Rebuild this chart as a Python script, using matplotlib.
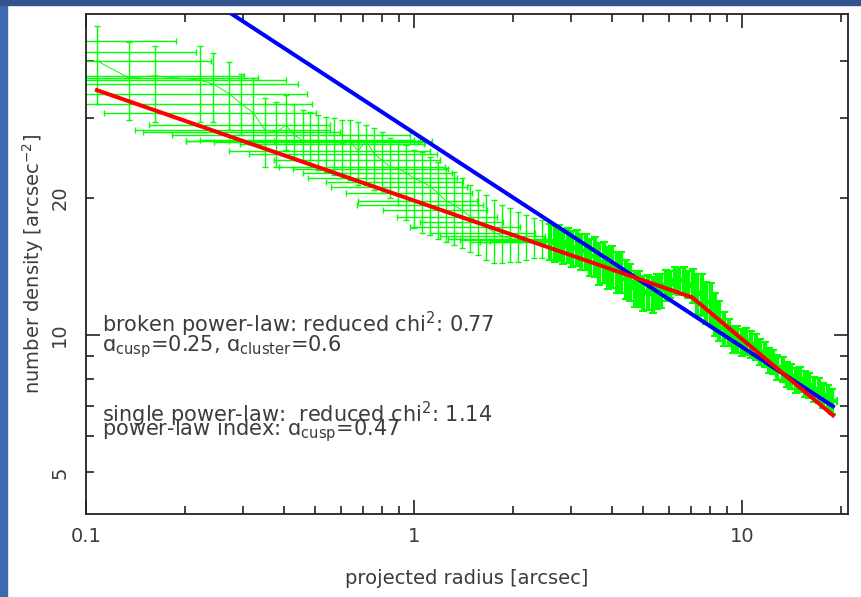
import matplotlib
matplotlib.use("Agg")
import matplotlib.pyplot as plt
from matplotlib.patches import Rectangle
from matplotlib.ticker import FixedLocator, FuncFormatter, NullFormatter
import numpy as np

# Inner profile: binned points with long radial bins (r, density, bin edges, density range)
r_in = [0.083, 0.089, 0.108, 0.135, 0.162, 0.223, 0.244, 0.273, 0.297, 0.323,
        0.351, 0.380, 0.407, 0.431, 0.459,
        0.482, 0.510, 0.539, 0.570, 0.603, 0.638, 0.675, 0.714, 0.755, 0.799,
        0.845, 0.894, 0.946, 1.000, 1.058, 1.119, 1.184, 1.252, 1.324, 1.401,
        1.482, 1.567, 1.658, 1.754, 1.855, 1.962, 2.076, 2.195, 2.322, 2.456]
dens_in = [44.3, 41.9, 40.0, 36.7, 37.1, 36.3, 35.6, 33.9, 32.2, 30.8,
           28.2, 27.9, 28.9, 27.5, 26.7,
           26.7, 26.8, 26.6, 26.7, 26.3, 26.6, 25.4, 26.7, 25.0, 24.2,
           23.4, 23.2, 22.7, 22.1, 21.7, 21.2, 20.5, 19.7, 19.3, 18.8,
           18.2, 17.7, 17.3, 16.8, 16.5, 16.3, 16.2, 16.0, 16.0, 16.1]
r_in_lo = [0.05, 0.05, 0.05, 0.05, 0.05, 0.05, 0.05, 0.05, 0.05, 0.1135,
           0.141, 0.149, 0.156, 0.183, 0.202,
           0.202, 0.223, 0.246, 0.273, 0.295, 0.314, 0.273, 0.374, 0.314, 0.374,
           0.388, 0.428, 0.459, 0.475, 0.539, 0.559, 0.621, 0.675, 0.670, 0.805,
           0.888, 1.043, 0.972, 1.119, 1.200, 1.270, 1.381, 1.482, 1.589, 1.705]
r_in_hi = [0.188, 0.217, 0.240, 0.335, 0.303, 0.407, 0.443, 0.472, 0.489, 0.503,
           0.555, 0.595, 0.555, 0.972, 1.000,
           0.972, 1.000, 1.029, 1.043, 1.073, 1.080, 1.119, 1.135, 1.175, 1.200,
           1.243, 1.270, 1.306, 1.352, 1.411, 1.451, 1.503, 1.556, 1.623, 1.670,
           1.791, 1.868, 2.105, 2.339, 2.508, 2.598, 2.691, 2.787, 2.887, 2.989]
dens_in_lo = [39.0, 37.0, 32.2, 29.7, 29.4, 29.4, 29.4, 28.2, 27.5, 26.8,
              23.4, 23.4, 25.5, 24.2, 24.2,
              23.4, 23.0, 22.8, 22.5, 22.1, 21.9, 21.4, 21.4, 20.8, 20.5,
              20.0, 19.3, 17.9, 17.2, 16.8, 16.6, 16.3, 16.0, 15.8, 15.5,
              15.2, 15.0, 14.6, 14.4, 14.4, 14.5, 14.5, 14.6, 14.8, 14.8]
dens_in_hi = [50.0, 47.0, 47.8, 44.0, 43.2, 43.2, 41.7, 39.8, 37.5, 36.7,
              33.2, 32.5, 33.7, 32.2, 31.2,
              30.9, 30.4, 30.1, 30.0, 29.7, 29.7, 29.4, 28.9, 28.5, 27.9,
              27.1, 26.6, 26.2, 25.5, 25.3, 24.6, 24.0, 23.3, 22.8, 22.1,
              21.4, 20.8, 20.3, 19.8, 19.3, 19.0, 18.6, 18.4, 18.1, 17.9]

# Outer profile: dense points with small errors
r_out = [2.60, 2.68, 2.76, 2.85, 2.94, 3.03, 3.13, 3.23, 3.33, 3.44,
         3.55, 3.66, 3.78, 3.90, 4.02, 4.15, 4.28, 4.42, 4.56, 4.70,
         4.85, 5.00, 5.16, 5.33, 5.50, 5.67, 5.85, 6.04, 6.23, 6.43,
         6.63, 6.84, 7.06, 7.29, 7.52, 7.76, 8.01, 8.26, 8.52, 8.80,
         9.08, 9.37, 9.67, 9.98, 10.3, 10.6, 11.0, 11.3, 11.7, 12.1,
         12.4, 12.8, 13.3, 13.7, 14.1, 14.6, 15.0, 15.5, 16.0, 16.5,
         17.1, 17.6, 18.2, 18.8]
dens_out = [16.1, 15.9, 16.0, 15.7, 15.8, 15.5, 15.6, 15.3, 15.3, 14.9,
            14.9, 14.4, 14.5, 14.1, 14.2, 13.8, 13.8, 13.3, 13.1, 12.7,
            12.7, 12.4, 12.45, 12.3, 12.5, 12.55, 12.9, 12.95, 13.2, 13.15,
            13.2, 12.95, 12.85, 12.35, 12.3, 11.85, 11.8, 11.15, 10.8, 10.35,
            10.15, 9.8, 9.8, 9.65, 9.7, 9.55, 9.45, 9.2, 9.08, 8.83,
            8.75, 8.5, 8.42, 8.2, 8.13, 7.98, 8.0, 7.83, 7.77, 7.62,
            7.56, 7.4, 7.33, 7.17]
dens_err_out = [1.45, 1.45, 1.45, 1.4, 1.4, 1.4, 1.4, 1.4, 1.4, 1.4,
                1.5, 1.5, 1.5, 1.5, 1.5, 1.45, 1.4, 1.3, 1.2, 1.15,
                1.15, 1.1, 1.1, 1.1, 1.1, 1.1, 1.0, 0.9, 0.9, 0.9,
                0.9, 0.9, 1.1, 1.3, 1.3, 1.25, 1.25, 1.2, 1.1, 0.9,
                0.7, 0.66, 0.66, 0.66, 0.66, 0.65, 0.63, 0.6, 0.58, 0.56,
                0.55, 0.54, 0.53, 0.52, 0.51, 0.5, 0.5, 0.5, 0.49, 0.48,
                0.48, 0.47, 0.46, 0.45]
r_err_out = [0.09, 0.09, 0.1, 0.1, 0.1, 0.11, 0.11, 0.11, 0.12, 0.12,
             0.12, 0.13, 0.13, 0.14, 0.14, 0.15, 0.15, 0.15, 0.16, 0.16,
             0.17, 0.18, 0.18, 0.19, 0.19, 0.2, 0.2, 0.21, 0.22, 0.22,
             0.23, 0.24, 0.25, 0.26, 0.26, 0.27, 0.28, 0.29, 0.3, 0.31,
             0.32, 0.33, 0.34, 0.35, 0.36, 0.37, 0.38, 0.4, 0.41, 0.42,
             0.43, 0.45, 0.47, 0.48, 0.49, 0.51, 0.52, 0.54, 0.56, 0.58,
             0.6, 0.62, 0.64, 0.66]

# fitted models (line vertices)
single_r = [0.1, 18.9]
single_dens = [82.0, 6.98]
broken_r = [0.108, 7.04, 18.9]
broken_dens = [34.5, 12.1, 6.67]

GREEN = "#00ff00"
TXT = "#3c3c3c"

fig = plt.figure(figsize=(8.62, 5.97), dpi=100)
fig.patches.append(Rectangle((0, 0), 7 / 862, 1, transform=fig.transFigure,
                             color="#4068b0", zorder=-1))
fig.patches.append(Rectangle((0, 1 - 5 / 597), 1, 5 / 597, transform=fig.transFigure,
                             color="#33538c", zorder=-1))

ax = fig.add_axes([86 / 862, 83 / 597, 762 / 862, 500 / 597])
ax.set_xscale("log")
ax.set_yscale("log")

r_in_a = np.array(r_in)
dens_in_a = np.array(dens_in)
ax.errorbar(r_in_a, dens_in_a,
            xerr=[r_in_a - np.array(r_in_lo), np.array(r_in_hi) - r_in_a],
            yerr=[dens_in_a - np.array(dens_in_lo), np.array(dens_in_hi) - dens_in_a],
            fmt="none", ecolor=GREEN, elinewidth=1.0, capsize=2.5, capthick=1.0, zorder=2)
ax.errorbar(r_out, dens_out, xerr=r_err_out, yerr=dens_err_out,
            fmt="none", ecolor=GREEN, elinewidth=3.0, capsize=3, capthick=1.5, zorder=2)

# thin line joining the profile points
r_all = np.concatenate([r_in_a, r_out])
dens_all = np.concatenate([dens_in_a, dens_out])
keep = r_all >= 0.1
ax.plot(r_all[keep], dens_all[keep], color=GREEN, lw=0.7, zorder=2)

ax.plot(single_r, single_dens, color="#0000ff", lw=2.9, zorder=3)
ax.plot(broken_r, broken_dens, color="#ff0000", lw=2.9, zorder=4)

ax.set_xlim(0.1, 21.0)
ax.set_ylim(4.05, 50.7)

ax.xaxis.set_major_locator(FixedLocator([0.1, 1, 10]))
ax.xaxis.set_minor_locator(FixedLocator([0.2, 0.3, 0.4, 0.5, 0.6, 0.7, 0.8, 0.9,
                                         2, 3, 4, 5, 6, 7, 8, 9, 20]))
ax.xaxis.set_major_formatter(FuncFormatter(lambda v, p: "%g" % v))
ax.xaxis.set_minor_formatter(NullFormatter())

ax.yaxis.set_major_locator(FixedLocator([10]))
ax.yaxis.set_minor_locator(FixedLocator([5, 6, 7, 8, 9, 20, 30, 40]))
ax.yaxis.set_major_formatter(FuncFormatter(lambda v, p: "%g" % v))
ax.yaxis.set_minor_formatter(FuncFormatter(lambda v, p: "%g" % v if v in (5, 20) else ""))

ax.tick_params(which="both", direction="in", top=True, right=True,
               width=1.2, colors="#222222", labelcolor=TXT, labelsize=14)
ax.tick_params(which="major", length=10)
ax.tick_params(which="minor", length=6)
ax.tick_params(axis="x", which="both", pad=9)
ax.tick_params(axis="y", which="both", pad=12, labelrotation=90)
for lab in ax.get_yticklabels(which="both"):
    lab.set_verticalalignment("center")

for s in ax.spines.values():
    s.set_linewidth(1.3)
    s.set_color("#222222")

ax.set_xlabel("projected radius [arcsec]", fontsize=14, color=TXT, labelpad=17)
ax.set_ylabel(r"number density [arcsec$^{-2}$]", fontsize=14, color=TXT, labelpad=3)

kw = dict(transform=ax.transAxes, fontsize=15, color=TXT, va="baseline", ha="left")
ax.text(0.021, 0.364, r"broken power-law: reduced chi$^2$: 0.77", **kw)
ax.text(0.021, 0.326, r"ɑ$_{\rm cusp}$=0.25, ɑ$_{\rm cluster}$=0.6", **kw)
ax.text(0.021, 0.184, r"single power-law:  reduced chi$^2$: 1.14", **kw)
ax.text(0.021, 0.158, r"power-law index: ɑ$_{\rm cusp}$=0.47", **kw)

fig.savefig("out.png", dpi=100)
